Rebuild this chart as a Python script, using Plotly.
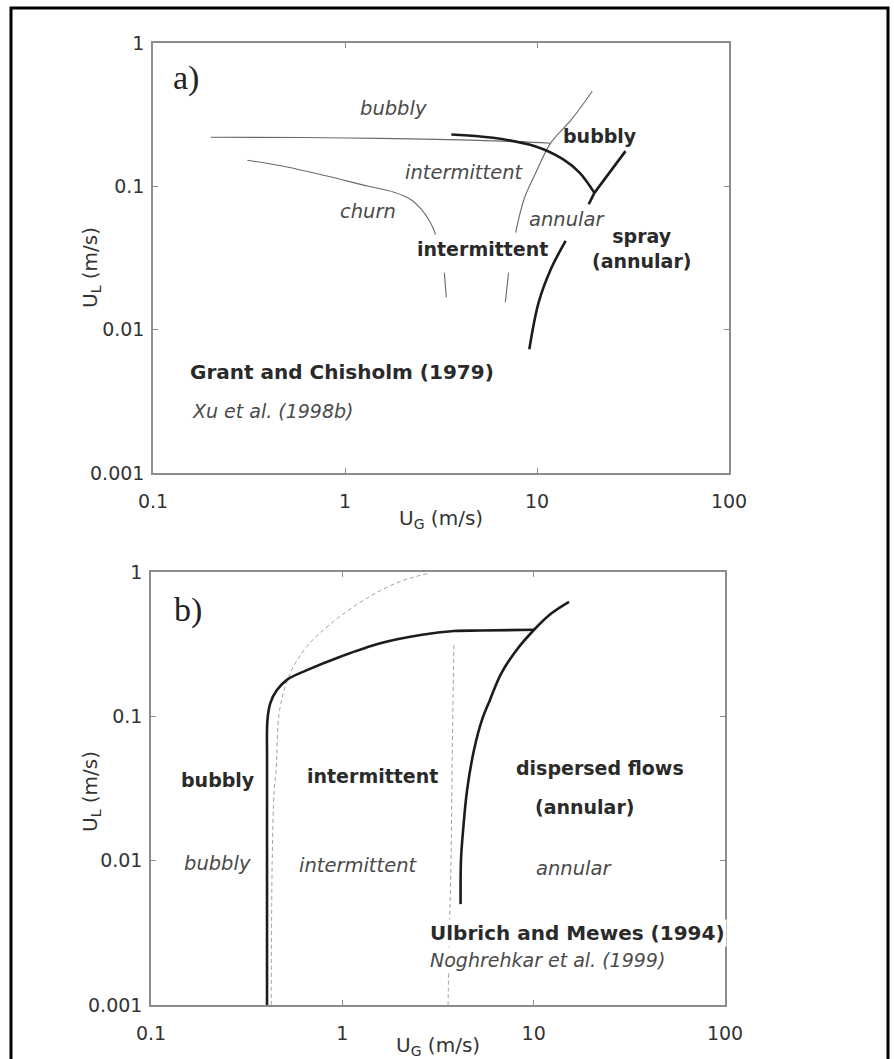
import numpy as np
import plotly.graph_objects as go

# ---------------- panel a) : Grant & Chisholm (1979) vs Xu et al. (1998b) ----------------
# Xu et al. thin boundaries
xu_bub_x = [0.20, 0.60, 1.5, 4.0, 8.0, 11.8]
xu_bub_y = [0.220, 0.219, 0.216, 0.211, 0.205, 0.200]

xu_churn_x = [0.31, 0.491, 0.805, 1.33, 1.80, 2.20, 2.50, 2.74, 2.88, 2.96, None, 3.29, 3.37]
xu_churn_y = [0.152, 0.137, 0.118, 0.100, 0.091, 0.081, 0.069, 0.058, 0.051, 0.046, None, 0.025, 0.0168]

xu_ann_x = [19.4, 15.1, 11.8, 9.68, 8.55, 7.74, None, 7.11, 6.84]
xu_ann_y = [0.461, 0.292, 0.201, 0.118, 0.081, 0.0475, None, 0.025, 0.0155]

# Grant & Chisholm thick boundaries
gc_bub_x = [3.58, 5.89, 9.68, 13.7, 16.7, 19.9]
gc_bub_y = [0.230, 0.218, 0.191, 0.154, 0.124, 0.090]

gc_spray_x = [19.9, 28.9]
gc_spray_y = [0.090, 0.176]

gc_ann_x = [19.9, 18.6, None, 14.1, 11.8, 10.2, 9.12]
gc_ann_y = [0.090, 0.075, None, 0.0416, 0.0264, 0.0155, 0.0073]

# ---------------- panel b) : Ulbrich & Mewes (1994) vs Noghrehkar et al. (1999) ----------------
um_bub_x = [0.404, 0.404, 0.404, 0.406, 0.420, 0.455, 0.513, 0.653, 0.976, 1.58, 2.56, 3.83, 5.27, 10.05]
um_bub_y = [0.001, 0.01, 0.05, 0.094, 0.123, 0.152, 0.179, 0.209, 0.259, 0.321, 0.366, 0.390, 0.393, 0.398]

um_ann_x = [4.15, 4.17, 4.28, 4.49, 4.88, 5.37, 5.91, 6.75, 8.09, 10.05, 12.3, 15.3]
um_ann_y = [0.005, 0.0101, 0.0164, 0.031, 0.0587, 0.0946, 0.130, 0.197, 0.285, 0.398, 0.514, 0.622]

nog_bub_x = [0.425, 0.430, 0.440, 0.451, 0.470, 0.534, 0.653, 0.90, 1.35, 2.01, 2.83]
nog_bub_y = [0.001, 0.010, 0.030, 0.0427, 0.110, 0.199, 0.305, 0.454, 0.661, 0.861, 0.98]

nog_ann_x = [3.83, 3.75, 3.70, 3.62, 3.57]
nog_ann_y = [0.313, 0.050, 0.010, 0.003, 0.001]

# tick values / labels
x_ticks = [0.1, 1, 10, 100]
x_ticktext = ["0.1", "1", "10", "100"]
y_ticks = [0.001, 0.01, 0.1, 1]
y_ticktext = ["0.001", "0.01", "0.1", "1"]

# region labels: (text, x, y, style)
labels_a = [
    ("bubbly", 1.79, 0.347, "it"),
    ("bubbly", 21.2, 0.224, "bf"),
    ("intermittent", 4.16, 0.124, "it"),
    ("churn", 1.32, 0.067, "it"),
    ("annular", 14.3, 0.059, "it"),
    ("intermittent", 5.2, 0.0364, "bf"),
    ("spray<br>(annular)", 35.0, 0.037, "bf"),
]
labels_b = [
    ("bubbly", 0.225, 0.0365, "bf"),
    ("intermittent", 1.43, 0.0385, "bf"),
    ("dispersed flows", 22.2, 0.0442, "bf"),
    ("(annular)", 18.4, 0.0236, "bf"),
    ("bubbly", 0.222, 0.0095, "it"),
    ("intermittent", 1.21, 0.0093, "it"),
    ("annular", 16.2, 0.0088, "it"),
]
# source captions: (text, x_left, y, style, boxed)
captions_a = [
    ("Grant and Chisholm (1979)", 0.152, 0.0051, "bf", False),
    ("Xu et al. (1998b)", 0.155, 0.00269, "it", False),
]
captions_b = [
    ("Ulbrich and Mewes (1994)", 2.80, 0.00315, "bf", True),
    ("Noghrehkar et al. (1999)", 2.80, 0.00205, "it", True),
]
panel_tags = [("a)", 0.149, 0.57, "x", "y"), ("b)", 0.157, 0.547, "x2", "y2")]

W, H = 894, 1059
SANS = "DejaVu Sans"
THIN = dict(color="#6a6a6a", width=1.1)
THICK = dict(color="#1c1c1c", width=2.6)
DASH = dict(color="#a0a0a0", width=1.0, dash="4px,3px")

fig = go.Figure()


def add_line(xs, ys, style, xa, ya):
    fig.add_trace(go.Scatter(x=xs, y=ys, mode="lines", line=dict(**style, shape="spline", smoothing=1.0),
                             connectgaps=False, hoverinfo="skip", showlegend=False,
                             xaxis=xa, yaxis=ya))


add_line(xu_bub_x, xu_bub_y, THIN, "x", "y")
add_line(xu_churn_x, xu_churn_y, THIN, "x", "y")
add_line(xu_ann_x, xu_ann_y, THIN, "x", "y")
add_line(gc_bub_x, gc_bub_y, THICK, "x", "y")
add_line(gc_spray_x, gc_spray_y, THICK, "x", "y")
add_line(gc_ann_x, gc_ann_y, THICK, "x", "y")

add_line(nog_bub_x, nog_bub_y, DASH, "x2", "y2")
add_line(nog_ann_x, nog_ann_y, DASH, "x2", "y2")
add_line(um_bub_x, um_bub_y, THICK, "x2", "y2")
add_line(um_ann_x, um_ann_y, THICK, "x2", "y2")

annotations = []


def style_font(kind, size):
    if kind == "bf":
        return dict(family=SANS, size=size, color="#2a2a2a", weight="bold")
    return dict(family=SANS, size=size, color="#4a4a4a", style="italic")


for labels, xa, ya in [(labels_a, "x", "y"), (labels_b, "x2", "y2")]:
    for text, lx, ly, kind in labels:
        annotations.append(dict(text=text, x=np.log10(lx), y=np.log10(ly), xref=xa, yref=ya,
                                xanchor="center", yanchor="middle", showarrow=False,
                                font=style_font(kind, 19 if kind == "bf" else 19.5), align="center"))

for caps, xa, ya in [(captions_a, "x", "y"), (captions_b, "x2", "y2")]:
    for text, lx, ly, kind, boxed in caps:
        annotations.append(dict(text=text, x=np.log10(lx), y=np.log10(ly), xref=xa, yref=ya,
                                xanchor="left", yanchor="middle", showarrow=False,
                                font=style_font(kind, 20 if kind == "bf" else 19),
                                bgcolor="white" if boxed else None, borderpad=1))

for tag, tx, ty, xa, ya in panel_tags:
    annotations.append(dict(text=tag, x=np.log10(tx), y=np.log10(ty), xref=xa, yref=ya,
                            xanchor="center", yanchor="middle", showarrow=False,
                            font=dict(family="Liberation Serif", size=34, color="#222")))

# axis titles (pixel positions converted to paper fractions; margins are zero)
for cx, cy in [(441, 519), (438, 1046)]:
    annotations.append(dict(text="U<sub>G</sub> (m/s)", x=cx / W, y=1 - cy / H, xref="paper", yref="paper",
                            xanchor="center", yanchor="middle", showarrow=False,
                            font=dict(family=SANS, size=20, color="#333")))
for cx, cy in [(91, 268), (91, 792)]:
    annotations.append(dict(text="U<sub>L</sub> (m/s)", x=cx / W, y=1 - cy / H, xref="paper", yref="paper",
                            xanchor="center", yanchor="middle", showarrow=False, textangle=-90,
                            font=dict(family=SANS, size=20, color="#333")))

axis_common = dict(type="log", showgrid=False, zeroline=False, showline=True, linecolor="#8c8c8c",
                   linewidth=1.5, mirror="ticks", ticks="inside", ticklen=5, tickcolor="#8c8c8c",
                   tickwidth=1.2, tickfont=dict(family=SANS, size=19, color="#333"), automargin=False)

xax = dict(axis_common, range=[-1, 2], tickvals=x_ticks, ticktext=x_ticktext, ticklabelstandoff=10)
yax = dict(axis_common, range=[-3, 0], tickvals=y_ticks, ticktext=y_ticktext, ticklabelstandoff=3)

fig.update_layout(
    width=W, height=H,
    margin=dict(l=0, r=0, t=0, b=0),
    paper_bgcolor="white", plot_bgcolor="white",
    template="none",
    xaxis=dict(xax, domain=[153 / W, 729 / W], anchor="y"),
    yaxis=dict(yax, domain=[1 - 473 / H, 1 - 43 / H], anchor="x"),
    xaxis2=dict(xax, domain=[151 / W, 725 / W], anchor="y2"),
    yaxis2=dict(yax, domain=[1 - 1005 / H, 1 - 572 / H], anchor="x2"),
    annotations=annotations,
    shapes=[dict(type="rect", xref="paper", yref="paper", x0=11 / W, x1=888 / W, y0=-0.02, y1=1 - 8 / H,
                 line=dict(color="black", width=3), fillcolor="rgba(0,0,0,0)", layer="above")],
)

fig.write_html("out.html")
